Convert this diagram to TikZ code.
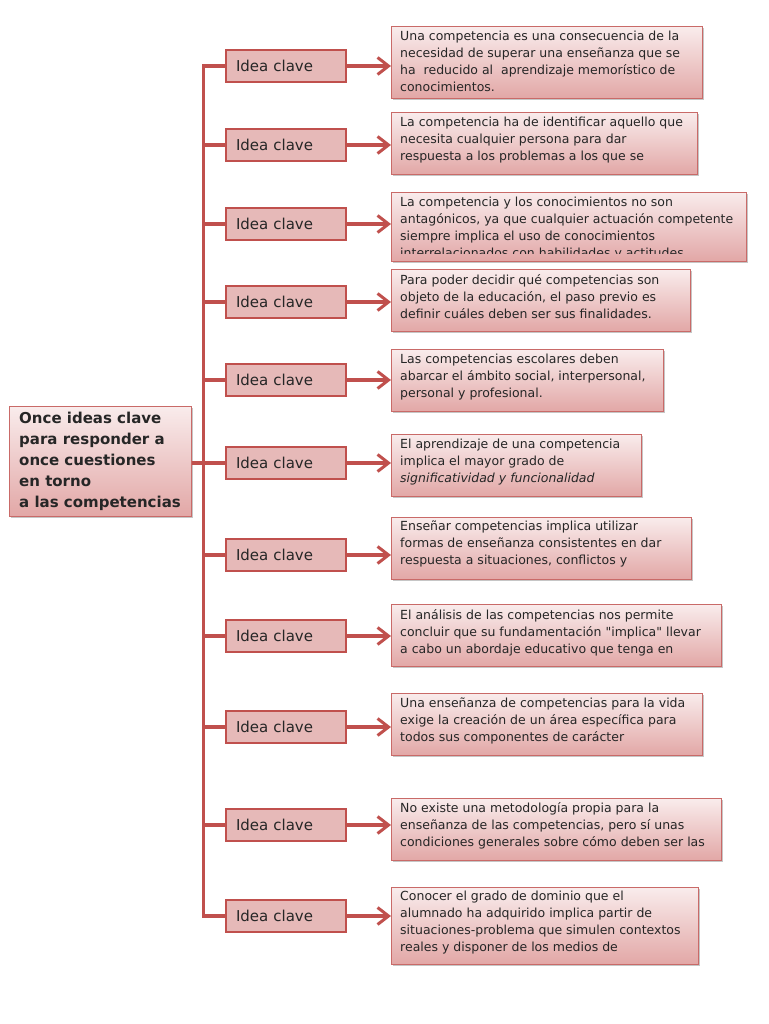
\documentclass[tikz,border=0pt]{standalone}
\usepackage{fontspec}
\setmainfont{DejaVu Sans}
\usepackage{tikz}
\usetikzlibrary{arrows.meta,shadows}
\definecolor{mapred}{HTML}{C0504D}
\definecolor{idearose}{HTML}{E6B9B8}
\definecolor{notetop}{HTML}{F9ECEC}
\definecolor{notebottom}{HTML}{E2A7A6}
\definecolor{inkgray}{HTML}{262626}
\newcommand\plainquote{\XeTeXglyph\XeTeXcharglyph"22\relax}
\tikzset{
  every picture/.style={line join=miter, >=Stealth},
  branch/.style={draw=mapred, line width=3.5pt},
  link/.style={draw=mapred, line width=3.5pt, -{Straight Barb[length=11pt,width=17pt,line width=3pt]}},
  ideabox/.style={draw=mapred, line width=2.5pt, fill=idearose, text=inkgray, minimum height=32, text width=100, inner xsep=10, align=left, font=\fontsize{15}{18}\selectfont},
  notebox/.style={draw=mapred!85, line width=0.8pt, top color=notetop, bottom color=notebottom, drop shadow={shadow xshift=1.2pt, shadow yshift=-1.2pt, opacity=0.45}, anchor=north west, inner sep=0pt},
  notetext/.style={anchor=north west, inner sep=0pt, align=left, text=inkgray, font=\fontsize{12.5}{17}\selectfont},
  maintext/.style={anchor=north west, inner sep=0pt, align=left, text=inkgray, font=\fontsize{15}{21}\selectfont\bfseries},
}

\begin{document}
\begin{tikzpicture}[x=1pt, y=-1pt]
\useasboundingbox (0,0) rectangle (768,1024);
\coordinate (trunk) at (203.5,0);

\node[notebox, minimum width=182, minimum height=110] (main) at (9,406) {};
\node[maintext] (mainl) at ([shift={(10,6)}]main.north west) {Once ideas clave\\para responder a\\once cuestiones\\en torno\\a las competencias};

\node[ideabox] (i1) at (286,66) {Idea clave};
\node[ideabox] (i2) at (286,145) {Idea clave};
\node[ideabox] (i3) at (286,224) {Idea clave};
\node[ideabox] (i4) at (286,302) {Idea clave};
\node[ideabox] (i5) at (286,380) {Idea clave};
\node[ideabox] (i6) at (286,463) {Idea clave};
\node[ideabox] (i7) at (286,555) {Idea clave};
\node[ideabox] (i8) at (286,636) {Idea clave};
\node[ideabox] (i9) at (286,727) {Idea clave};
\node[ideabox] (i10) at (286,825) {Idea clave};
\node[ideabox] (i11) at (286,916) {Idea clave};

\node[notebox, minimum width=311, minimum height=72] (t1) at (391,26) {};
\node[notetext] (t1l) at ([shift={(9,5)}]t1.north west) {Una competencia es una consecuencia de la\\necesidad de superar una enseñanza que se\\ha~ reducido al~ aprendizaje memorístico de\\conocimientos.};
\node[notebox, minimum width=306, minimum height=62] (t2) at (391,112) {};
\node[notetext] (t2l) at ([shift={(9,5)}]t2.north west) {La competencia ha de identificar aquello que\\necesita cualquier persona para dar\\respuesta a los problemas a los que se};
\node[notebox, minimum width=355, minimum height=69] (t3) at (391,192) {};
\begin{scope}
\clip (t3.north west) rectangle ([yshift=8pt]t3.south east);
\node[notetext] (t3l) at ([shift={(9,5)}]t3.north west) {La competencia y los conocimientos no son\\antagónicos, ya que cualquier actuación competente\\siempre implica el uso de conocimientos\\interrelacionados con habilidades y actitudes};
\end{scope}
\node[notebox, minimum width=299, minimum height=62] (t4) at (391,269) {};
\node[notetext] (t4l) at ([shift={(9,5)}]t4.north west) {Para poder decidir qué competencias son\\objeto de la educación, el paso previo es\\definir cuáles deben ser sus finalidades.};
\node[notebox, minimum width=272, minimum height=62] (t5) at (391,349) {};
\node[notetext] (t5l) at ([shift={(9,5)}]t5.north west) {Las competencias escolares deben\\abarcar el ámbito social, interpersonal,\\personal y profesional.};
\node[notebox, minimum width=250, minimum height=62] (t6) at (391,434) {};
\node[notetext] (t6l) at ([shift={(9,5)}]t6.north west) {El aprendizaje de una competencia\\implica el mayor grado de\\\textit{significatividad y funcionalidad}};
\node[notebox, minimum width=300, minimum height=62] (t7) at (391,517) {};
\node[notetext] (t7l) at ([shift={(9,4)}]t7.north west) {Enseñar competencias implica utilizar\\formas de enseñanza consistentes en dar\\respuesta a situaciones, conflictos y};
\node[notebox, minimum width=330, minimum height=62] (t8) at (391,604) {};
\node[notetext] (t8l) at ([shift={(9,5)}]t8.north west) {El análisis de las competencias nos permite\\concluir que su fundamentación \plainquote implica\plainquote{} llevar\\a cabo un abordaje educativo que tenga en};
\node[notebox, minimum width=311, minimum height=62] (t9) at (391,693) {};
\node[notetext] (t9l) at ([shift={(9,5)}]t9.north west) {Una enseñanza de competencias para la vida\\exige la creación de un área específica para\\todos sus componentes de carácter};
\node[notebox, minimum width=330, minimum height=62] (t10) at (391,798) {};
\node[notetext] (t10l) at ([shift={(9,4)}]t10.north west) {No existe una metodología propia para la\\enseñanza de las competencias, pero sí unas\\condiciones generales sobre cómo deben ser las};
\node[notebox, minimum width=307, minimum height=77] (t11) at (391,887) {};
\node[notetext] (t11l) at ([shift={(9,4)}]t11.north west) {Conocer el grado de dominio que el\\alumnado ha adquirido implica partir de\\situaciones-problema que simulen contextos\\reales y disponer de los medios de};

\draw[branch] (main.east |- i6.west) -- (i6.west);
\draw[branch] (i1.west) -- (i1.west -| trunk) -- (i11.west -| trunk) -- (i11.west);
\foreach \k in {2,...,10}
  \draw[branch] (i\k.west -| trunk) -- (i\k.west);
\foreach \k in {1,...,11}
  \draw[link] (i\k.east) -- (i\k.east -| t\k.west);
\end{tikzpicture}
\end{document}
